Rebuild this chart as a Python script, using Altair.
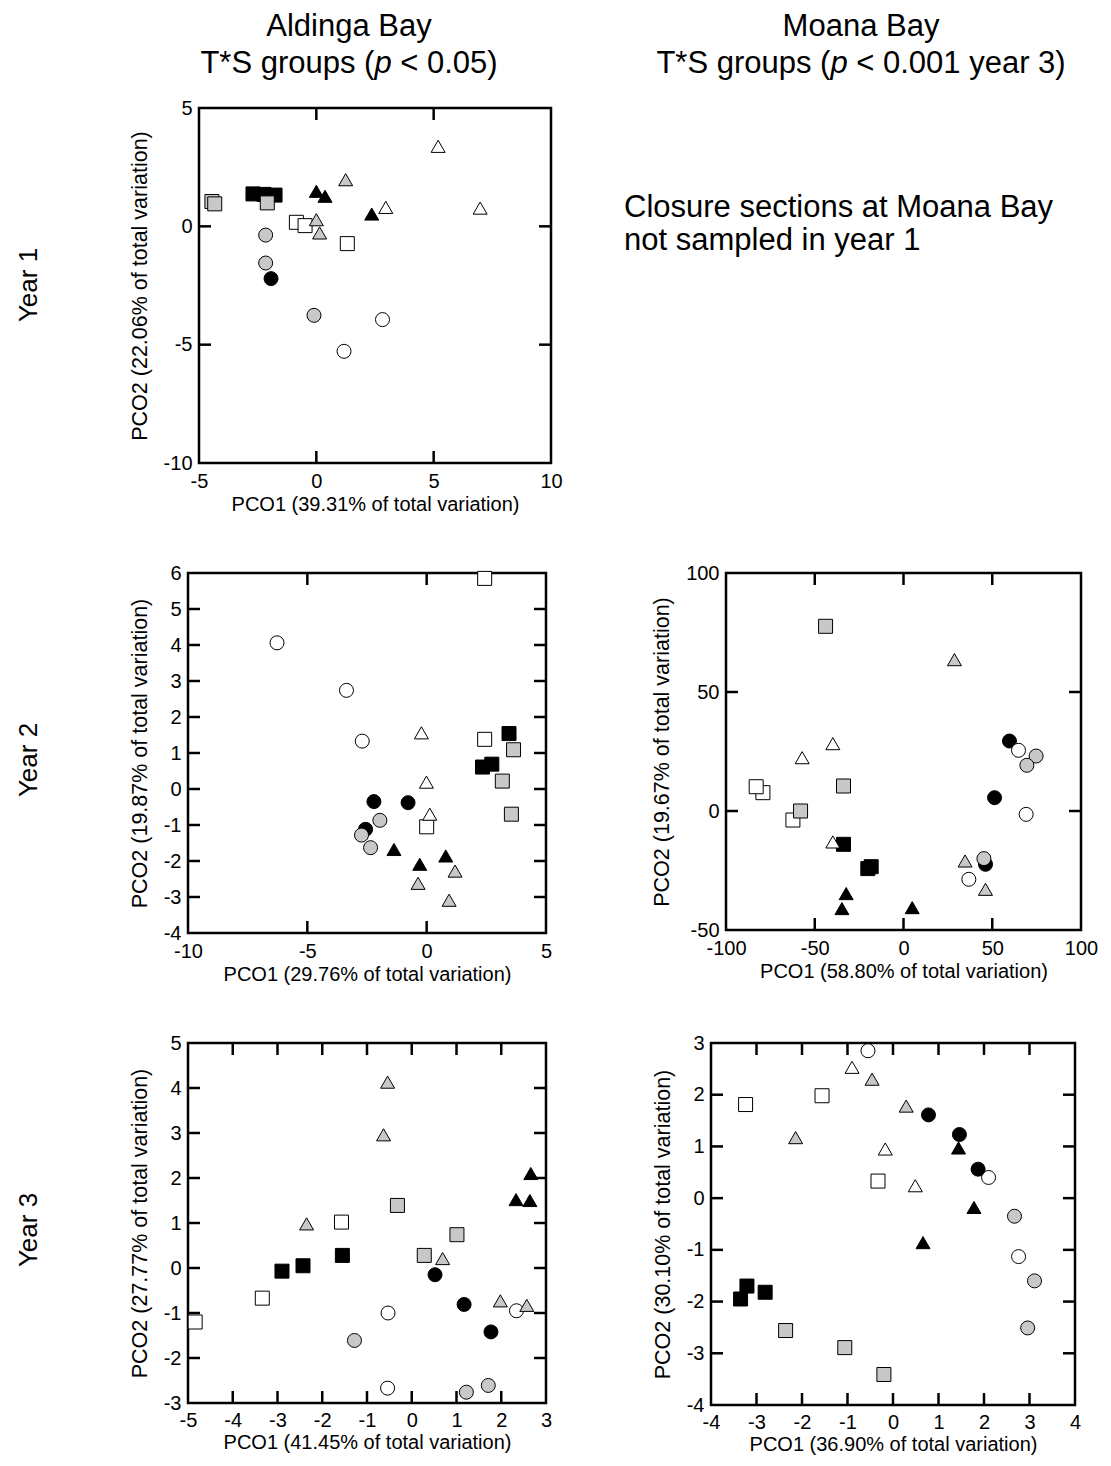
import altair as alt
import pandas as pd

FONT = "Liberation Sans"
GRAY = "#c8c8c8"
SHAPES = ["circle", "square", "triangle"]
SHADES = ["black", "gray", "white"]

# ---------------- Year 1, Aldinga Bay ----------------
y1a_x = [-4.45, -4.33, -2.70, -2.23, -1.76, -2.09, -0.85, -0.48, 1.32,
         -2.16, -2.16, -0.10, -1.93, 2.82, 1.18,
         0.00, 0.14, 1.25, 0.00, 0.37, 2.36, 2.96, 5.19, 6.98]
y1a_y = [1.05, 0.95, 1.37, 1.35, 1.32, 0.99, 0.17, 0.03, -0.73,
         -0.37, -1.55, -3.76, -2.21, -3.94, -5.28,
         0.28, -0.28, 1.97, 1.48, 1.27, 0.52, 0.80, 3.38, 0.77]
y1a_shape = ["square"] * 9 + ["circle"] * 6 + ["triangle"] * 9
y1a_shade = ["gray", "gray", "black", "black", "black", "gray", "white", "white", "white",
             "gray", "gray", "gray", "black", "white", "white",
             "gray", "gray", "gray", "black", "black", "black", "white", "white", "white"]

# ---------------- Year 2, Aldinga Bay ----------------
y2a_x = [2.43, 0.00, 2.43, 3.45, 2.34, 2.73, 3.64, 3.17, 3.55,
         -2.21, -0.78, -2.56, -1.96, -2.73, -2.35, -6.27, -3.36, -2.70,
         -0.22, -0.01, 0.13, -1.37, -0.29, 0.80, 1.19, -0.36, 0.94]
y2a_y = [5.85, -1.05, 1.38, 1.54, 0.61, 0.69, 1.09, 0.22, -0.70,
         -0.35, -0.38, -1.12, -0.87, -1.28, -1.63, 4.06, 2.74, 1.33,
         1.56, 0.19, -0.70, -1.68, -2.09, -1.86, -2.28, -2.62, -3.09]
y2a_shape = ["square"] * 9 + ["circle"] * 9 + ["triangle"] * 9
y2a_shade = ["white"] * 3 + ["black"] * 3 + ["gray"] * 3 + \
            ["black"] * 3 + ["gray"] * 3 + ["white"] * 3 + \
            ["white"] * 3 + ["black"] * 3 + ["gray"] * 3

# ---------------- Year 2, Moana Bay ----------------
y2m_x = [-79.2, -83.0, -62.3, -43.9, -33.8, -58.0, -33.8, -20.1, -18.2,
         -39.8, -57.1, -39.8, 28.7, 34.7, 46.2, -32.3, -34.7, 4.9,
         59.7, 51.3, 46.2, 64.8, 69.1, 36.8, 74.7, 69.5, 45.3]
y2m_y = [7.7, 10.2, -3.8, 77.6, 10.5, 0.0, -14.0, -24.2, -23.4,
         28.3, 22.4, -13.0, 63.6, -21.0, -32.9, -34.7, -41.0, -40.6,
         29.4, 5.6, -22.4, 25.5, -1.4, -28.7, 23.1, 19.2, -20.0]
y2m_shape = ["square"] * 9 + ["triangle"] * 9 + ["circle"] * 9
y2m_shade = ["white"] * 3 + ["gray"] * 3 + ["black"] * 3 + \
            ["white"] * 3 + ["gray"] * 3 + ["black"] * 3 + \
            ["black"] * 3 + ["white"] * 3 + ["gray"] * 3

# ---------------- Year 3, Aldinga Bay ----------------
y3a_x = [-1.57, -3.34, -4.84, -2.90, -2.43, -1.55, -0.32, 1.01, 0.28,
         0.52, 1.17, 1.77, -0.53, 2.34, -0.54, -1.28, 1.22, 1.71,
         -0.54, -0.63, -2.35, 0.69, 1.98, 2.57, 2.66, 2.33, 2.64]
y3a_y = [1.02, -0.67, -1.20, -0.07, 0.05, 0.28, 1.39, 0.74, 0.28,
         -0.15, -0.81, -1.42, -1.00, -0.95, -2.67, -1.61, -2.76, -2.61,
         4.13, 2.96, 0.98, 0.21, -0.73, -0.83, 2.10, 1.52, 1.50]
y3a_shape = ["square"] * 9 + ["circle"] * 9 + ["triangle"] * 9
y3a_shade = ["white"] * 3 + ["black"] * 3 + ["gray"] * 3 + \
            ["black"] * 3 + ["white"] * 3 + ["gray"] * 3 + \
            ["gray"] * 6 + ["black"] * 3

# ---------------- Year 3, Moana Bay ----------------
y3m_x = [-3.24, -1.56, -0.33, -3.21, -3.35, -2.81, -2.36, -1.06, -0.20,
         -0.90, -0.17, 0.49, -0.46, 0.29, -2.14, 1.44, 1.78, 0.66,
         -0.55, 2.10, 2.76, 0.78, 1.46, 1.87, 2.67, 3.11, 2.96]
y3m_y = [1.81, 1.98, 0.33, -1.70, -1.95, -1.82, -2.56, -2.89, -3.41,
         2.53, 0.95, 0.24, 2.30, 1.78, 1.17, 0.97, -0.18, -0.86,
         2.85, 0.40, -1.13, 1.61, 1.23, 0.56, -0.35, -1.60, -2.51]
y3m_shape = ["square"] * 9 + ["triangle"] * 9 + ["circle"] * 9
y3m_shade = ["white"] * 3 + ["black"] * 3 + ["gray"] * 3 + \
            ["white"] * 3 + ["gray"] * 3 + ["black"] * 3 + \
            ["white"] * 3 + ["black"] * 3 + ["gray"] * 3

# axis ticks
y1a_xticks, y1a_yticks = [-5, 0, 5, 10], [-10, -5, 0, 5]
y2a_xticks, y2a_yticks = [-10, -5, 0, 5], [-4, -3, -2, -1, 0, 1, 2, 3, 4, 5, 6]
y2m_xticks, y2m_yticks = [-100, -50, 0, 50, 100], [-50, 0, 50, 100]
y3a_xticks, y3a_yticks = [-5, -4, -3, -2, -1, 0, 1, 2, 3], [-3, -2, -1, 0, 1, 2, 3, 4, 5]
y3m_xticks, y3m_yticks = [-4, -3, -2, -1, 0, 1, 2, 3, 4], [-4, -3, -2, -1, 0, 1, 2, 3]

TICK_LEN = 12
HEAD_FS = 31
YEAR_FS = 26
EM_PREFIX = 5.613  # width of "T*S groups (" in em
EM_P = 0.556       # italic p
EM_SPACE = 0.278


def text_layer(txt, x, y, size, align="center", italic=False, angle=0, baseline="alphabetic"):
    df = pd.DataFrame({"t": [txt]})
    return alt.Chart(df).mark_text(
        font=FONT, fontSize=size, align=align, baseline=baseline, angle=angle,
        fontStyle="italic" if italic else "normal", color="black"
    ).encode(text="t:N", x=alt.value(x), y=alt.value(y))


def header(line1, rest, total_em, cx, y1, y2):
    start = cx - total_em * HEAD_FS / 2
    return [
        text_layer(line1, cx, y1, HEAD_FS),
        text_layer("T*S groups (", start, y2, HEAD_FS, align="left"),
        text_layer("p", start + EM_PREFIX * HEAD_FS, y2, HEAD_FS, align="left", italic=True),
        text_layer(rest, start + (EM_PREFIX + EM_P + EM_SPACE) * HEAD_FS, y2, HEAD_FS, align="left"),
    ]


def panel(px, py, pshape, pshade, xdom, ydom, xticks, yticks, xtitle, ytitle, w, h, extra=(),
          xlabpad=8, xtitlepad=3):
    df = pd.DataFrame({"x": px, "y": py, "shape": pshape, "shade": pshade})
    xscale = alt.Scale(domain=xdom, nice=False, zero=False)
    yscale = alt.Scale(domain=ydom, nice=False, zero=False)
    common = dict(tickSize=0, domain=False, grid=False, labelFont=FONT, titleFont=FONT,
                  labelFontSize=20, labelColor="black", titleColor="black",
                  titleFontWeight="normal", labelFlush=False, labelOverlap=False,
                  labelExpr="'' + datum.value")
    xaxis = alt.Axis(values=xticks, labelPadding=xlabpad, titlePadding=xtitlepad, titleFontSize=20, **common)
    yaxis = alt.Axis(values=yticks, labelPadding=7, titlePadding=12, titleFontSize=21.5, **common)
    X = alt.X("x:Q", scale=xscale, axis=xaxis, title=xtitle)
    Y = alt.Y("y:Q", scale=yscale, axis=yaxis, title=ytitle)
    pts = alt.Chart(df).mark_point(
        filled=True, size=196, stroke="black", strokeWidth=1, opacity=1
    ).encode(
        x=X, y=Y,
        shape=alt.Shape("shape:N", scale=alt.Scale(domain=SHAPES, range=["circle", "square", "triangle-up"]), legend=None),
        fill=alt.Fill("shade:N", scale=alt.Scale(domain=SHADES, range=["#000000", GRAY, "#ffffff"]), legend=None),
    )
    dfx = pd.DataFrame({"x": [v for v in xticks if xdom[0] < v < xdom[1]]})
    dfy = pd.DataFrame({"y": [v for v in yticks if ydom[0] < v < ydom[1]]})
    tk = dict(color="black", strokeWidth=2.5)
    bt = alt.Chart(dfx).mark_rule(**tk).encode(x=X, y=alt.value(h), y2=alt.value(h - TICK_LEN))
    tt = alt.Chart(dfx).mark_rule(**tk).encode(x=X, y=alt.value(0), y2=alt.value(TICK_LEN))
    lt = alt.Chart(dfy).mark_rule(**tk).encode(y=Y, x=alt.value(0), x2=alt.value(TICK_LEN))
    rt = alt.Chart(dfy).mark_rule(**tk).encode(y=Y, x=alt.value(w), x2=alt.value(w - TICK_LEN))
    return alt.layer(pts, bt, tt, lt, rt, *extra).properties(width=w, height=h)


# panel geometry (plot areas, page pixels)
P1_LEFT, P1_TOP = 200, 108
P2_LEFT, P2_TOP = 189, 573
P4_LEFT, P4_TOP = 189, 1043
YEAR_X = 30

p1 = panel(y1a_x, y1a_y, y1a_shape, y1a_shade, [-5, 10], [-10, 5], y1a_xticks, y1a_yticks,
           "PCO1 (39.31% of total variation)", "PCO2 (22.06% of total variation)", 352, 355,
           extra=[text_layer("Year 1", YEAR_X - P1_LEFT, 285 - P1_TOP, YEAR_FS, angle=270, baseline="middle")]
           + header("Aldinga Bay", "< 0.05)", 9.588, 350 - P1_LEFT, 36 - P1_TOP, 73 - P1_TOP))

p2 = panel(y2a_x, y2a_y, y2a_shape, y2a_shade, [-10, 5], [-4, 6], y2a_xticks, y2a_yticks,
           "PCO1 (29.76% of total variation)", "PCO2 (19.87% of total variation)", 358, 360,
           extra=[text_layer("Year 2", YEAR_X - P2_LEFT, 760 - P2_TOP, YEAR_FS, angle=270, baseline="middle")])

p3 = panel(y2m_x, y2m_y, y2m_shape, y2m_shade, [-100, 100], [-50, 100], y2m_xticks, y2m_yticks,
           "PCO1 (58.80% of total variation)", "PCO2 (19.67% of total variation)", 355, 357)

p4 = panel(y3a_x, y3a_y, y3a_shape, y3a_shade, [-5, 3], [-3, 5], y3a_xticks, y3a_yticks,
           "PCO1 (41.45% of total variation)", "PCO2 (27.77% of total variation)", 358, 360,
           extra=[text_layer("Year 3", YEAR_X - P4_LEFT, 1230 - P4_TOP, YEAR_FS, angle=270, baseline="middle")],
           xlabpad=7, xtitlepad=2)

p5 = panel(y3m_x, y3m_y, y3m_shape, y3m_shade, [-4, 4], [-4, 3], y3m_xticks, y3m_yticks,
           "PCO1 (36.90% of total variation)", "PCO2 (30.10% of total variation)", 364, 362,
           xlabpad=7, xtitlepad=2)

# top-right note panel
TP_LEFT = 562
note = alt.layer(
    text_layer("Closure sections at Moana Bay", 625 - TP_LEFT, 217 - P1_TOP, HEAD_FS, align="left"),
    text_layer("not sampled in year 1", 625 - TP_LEFT, 250 - P1_TOP, HEAD_FS, align="left"),
    *header("Moana Bay", "< 0.001 year 3)", 13.201, 862 - TP_LEFT, 36 - P1_TOP, 73 - P1_TOP),
).properties(width=480, height=355, view=alt.ViewBackground(stroke="transparent"))

spacer = alt.Chart(pd.DataFrame({"t": [""]})).mark_text().encode(
    text="t:N", x=alt.value(0), y=alt.value(0)
).properties(width=1, height=355, view=alt.ViewBackground(stroke="transparent"))

S1 = P1_LEFT - P2_LEFT - 1
row1 = alt.hconcat(spacer, p1, note, spacing=S1, bounds="flush").resolve_scale(x="independent", y="independent")
row2 = alt.hconcat(p2, p3, spacing=727 - P2_LEFT - 358, bounds="flush").resolve_scale(x="independent", y="independent")
row3 = alt.hconcat(p4, p5, spacing=712 - P4_LEFT - 358, bounds="flush").resolve_scale(x="independent", y="independent")

chart = alt.vconcat(row1, row2, row3, spacing=45, bounds="full").resolve_scale(
    x="independent", y="independent"
).properties(
    padding={"left": 6, "top": 1, "right": 0, "bottom": 0}
).configure_view(stroke="black", strokeWidth=2.5)

chart.save("out.html", embed_options={"renderer": "svg", "actions": False})
